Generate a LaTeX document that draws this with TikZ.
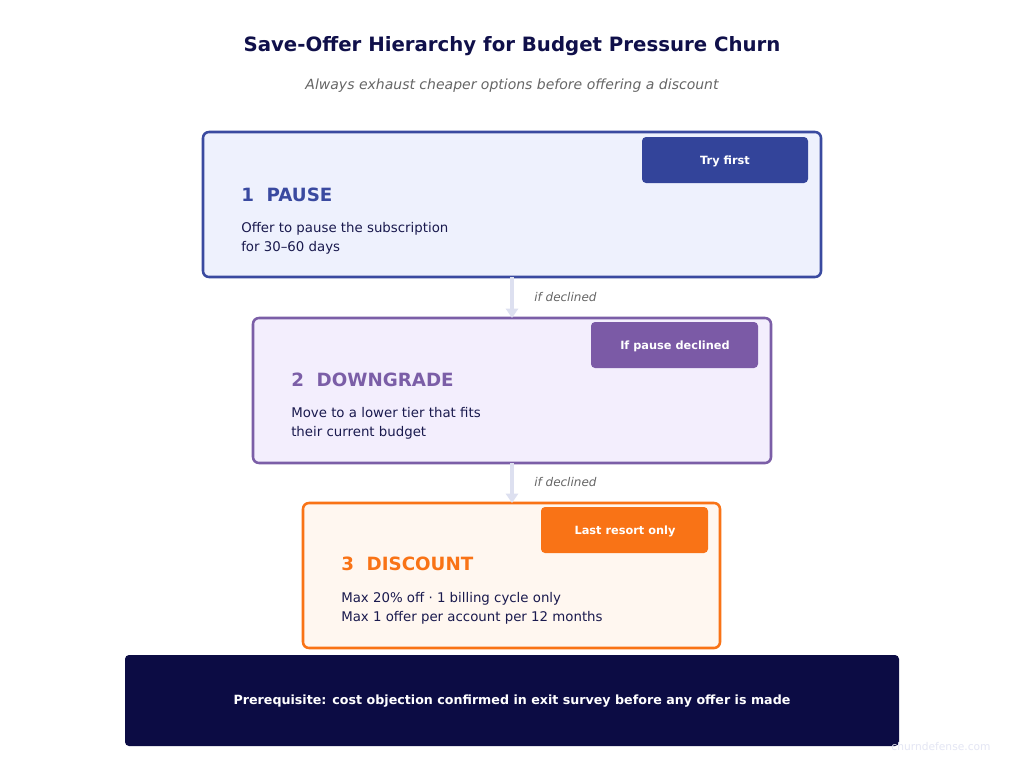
\documentclass[tikz,border=0pt]{standalone}
\usepackage{fontspec}
\setmainfont{DejaVu Sans}
\usetikzlibrary{arrows.meta}
\definecolor{navy}{HTML}{10104A}
\definecolor{bluec}{HTML}{3A4AA0}
\definecolor{bluebadge}{HTML}{33449A}
\definecolor{bluefill}{HTML}{EEF1FD}
\definecolor{purc}{HTML}{7B5EA7}
\definecolor{purbadge}{HTML}{7B5AA6}
\definecolor{purfill}{HTML}{F3EEFD}
\definecolor{orc}{HTML}{F97316}
\definecolor{orfill}{HTML}{FFF7F0}
\definecolor{footc}{HTML}{0C0C44}
\definecolor{arrc}{HTML}{DDE0F0}
\definecolor{graytxt}{HTML}{666666}
\definecolor{bodyc}{HTML}{1A1A4E}
\definecolor{wm}{HTML}{E4E6F4}
\tikzset{
  card/.style={draw, line width=1.9pt, rounded corners=4.5pt, inner sep=0pt},
  badge/.style={rounded corners=3pt, inner sep=0pt, text=white, font=\bfseries\fontsize{8.5}{10}\selectfont},
  heading/.style={anchor=west, inner sep=0pt, font=\bfseries\fontsize{13.7}{16}\selectfont},
  body/.style={anchor=north west, inner sep=0pt, align=left, text=bodyc, font=\fontsize{10}{14.25}\selectfont},
  flow/.style={draw=arrc, line width=2.4pt, -{Triangle[width=9pt,length=7pt]}},
  note/.style={anchor=west, inner sep=0pt, text=graytxt, font=\itshape\fontsize{9}{11}\selectfont}
}
\begin{document}
\begin{tikzpicture}[x=0.75pt,y=-0.75pt]
\useasboundingbox[fill=white] (0,0) rectangle (1024,771);
% title
\node[font=\bfseries\fontsize{14.8}{17}\selectfont, text=navy] (title) at (512,46) {Save-Offer Hierarchy for Budget Pressure Churn};
\node[font=\itshape\fontsize{10.5}{12}\selectfont, text=graytxt] (sub) at (512,86) {Always exhaust cheaper options before offering a discount};
% box 1
\path[card, draw=bluec, fill=bluefill] (203,132) rectangle (821,277);
\coordinate (b1top) at (512,132);
\coordinate (b1bot) at (512,277);
\path[badge, fill=bluebadge] (642,137) rectangle (808,183);
\node[badge] (t1) at (725,161) {Try first};
\node[heading, text=bluec] (h1) at (241,195) {1\ \ PAUSE};
\node[body] (d1) at (241,222) {Offer to pause the subscription\\for 30–60 days};
% box 2
\path[card, draw=purc, fill=purfill] (253,318) rectangle (771,463);
\coordinate (b2top) at (512,318);
\coordinate (b2bot) at (512,463);
\path[badge, fill=purbadge] (591,322) rectangle (758,368);
\node[badge] (t2) at (675,346) {If pause declined};
\node[heading, text=purc] (h2) at (291,380) {2\ \ DOWNGRADE};
\node[body] (d2) at (291,407) {Move to a lower tier that fits\\their current budget};
% box 3
\path[card, draw=orc, fill=orfill] (303,503) rectangle (720,648);
\coordinate (b3top) at (512,503);
\path[badge, fill=orc] (541,507) rectangle (708,553);
\node[badge] (t3) at (625,531) {Last resort only};
\node[heading, text=orc] (h3) at (341,564) {3\ \ DISCOUNT};
\node[body] (d3) at (341,592) {Max 20\% off · 1 billing cycle only\\Max 1 offer per account per 12 months};
% arrows
\draw[flow] (b1bot) -- (b2top);
\draw[flow] (b2bot) -- (b3top);
\node[note] (n1) at (534,297) {if declined};
\node[note] (n2) at (534,482) {if declined};
% footer
\path[fill=footc, rounded corners=3pt] (125,655) rectangle (899,746);
\node[text=white, font=\bfseries\fontsize{9.5}{11}\selectfont] (foot) at (512,701) {Prerequisite: cost objection confirmed in exit survey before any offer is made};
\node[text=wm, font=\fontsize{8}{10}\selectfont] (wmk) at (941,747) {churndefense.com};
\end{tikzpicture}
\end{document}
